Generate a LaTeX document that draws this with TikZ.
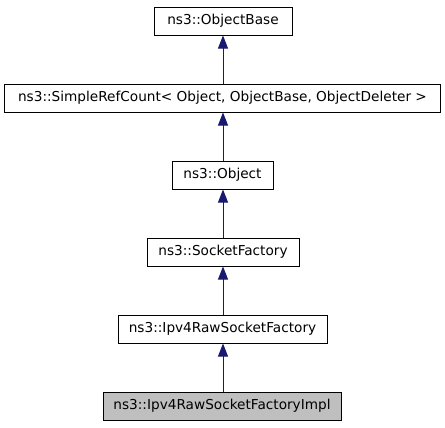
\documentclass[tikz,border=0pt]{standalone}
\usepackage{fontspec}
\setmainfont{DejaVu Sans}
\usetikzlibrary{arrows.meta}
\definecolor{edgeblue}{HTML}{191970}
\definecolor{implgray}{HTML}{BFBFBF}
\begin{document}
\begin{tikzpicture}[x=1bp,y=-1bp,
  cls/.style={draw=black,line width=1bp,minimum height=28bp,inner sep=0pt,font=\fontsize{13.7}{16}\selectfont},
  inh/.style={draw=edgeblue,line width=1bp,-{Triangle[length=13bp,width=10bp]}}]
\useasboundingbox (0,0) rectangle (445,427);
\node[cls,minimum width=138bp] (ob) at (223,21) {ns3::ObjectBase};
\node[cls,minimum width=435bp] (src) at (222.5,98) {ns3::SimpleRefCount< Object, ObjectBase, ObjectDeleter >};
\node[cls,minimum width=101bp] (obj) at (222.5,175) {ns3::Object};
\node[cls,minimum width=152bp] (sf) at (223,252) {ns3::SocketFactory};
\node[cls,minimum width=209bp] (rsf) at (222.5,329) {ns3::Ipv4RawSocketFactory};
\node[cls,minimum width=238bp,fill=implgray] (impl) at (222,406) {ns3::Ipv4RawSocketFactoryImpl};
\draw[inh] (src.north -| ob.south) -- (ob.south);
\draw[inh] (obj.north -| ob.south) -- (src.south -| ob.south);
\draw[inh] (sf.north -| ob.south) -- (obj.south -| ob.south);
\draw[inh] (rsf.north -| ob.south) -- (sf.south -| ob.south);
\draw[inh] (impl.north -| ob.south) -- (rsf.south -| ob.south);
\end{tikzpicture}
\end{document}
